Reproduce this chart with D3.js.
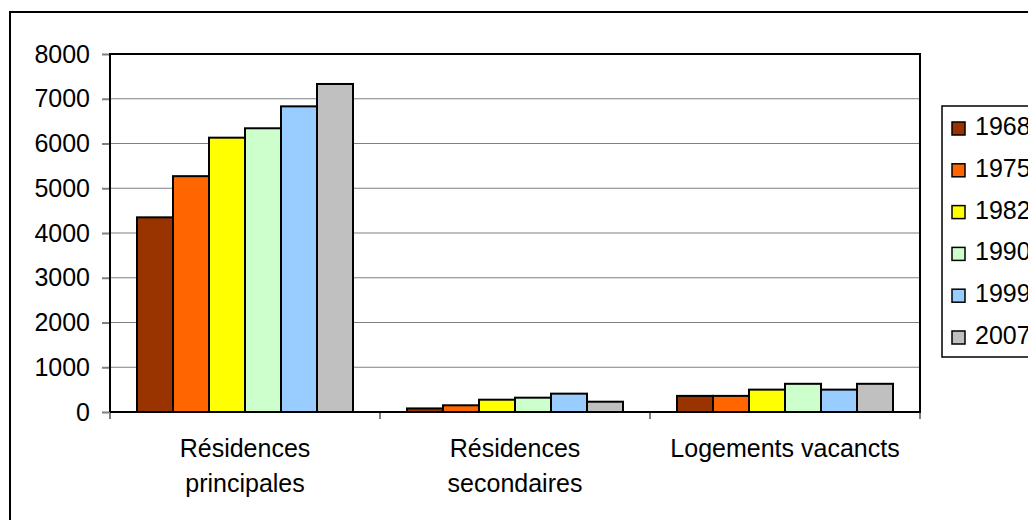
<!DOCTYPE html>
<html>
<head>
<meta charset="utf-8">
<script src="https://cdn.jsdelivr.net/npm/d3@7"></script>
<style>
  body { margin: 0; background: #fff; }
  text { font-family: "Liberation Sans", Arial, sans-serif; fill: #000; }
</style>
</head>
<body>
<script>
// data
const categories = [["Résidences", "principales"], ["Résidences", "secondaires"], ["Logements vacancts"]];
const years = ["1968", "1975", "1982", "1990", "1999", "2007"];
const colors = ["#993300", "#FF6600", "#FFFF00", "#CCFFCC", "#99CCFF", "#C0C0C0"];
const v1968 = [4350, 80, 360];
const v1975 = [5270, 150, 360];
const v1982 = [6130, 275, 500];
const v1990 = [6340, 320, 630];
const v1999 = [6830, 410, 500];
const v2007 = [7330, 230, 630];
const series = [v1968, v1975, v1982, v1990, v1999, v2007];
const yTicks = [0, 1000, 2000, 3000, 4000, 5000, 6000, 7000, 8000];

const width = 1028;
const height = 520;
const plot = { left: 110, right: 920, top: 54, bottom: 412 };

const svg = d3.select("body")
    .append("svg")
    .attr("width", width)
    .attr("height", height);

// outer chart border
svg.append("rect")
    .attr("x", 10).attr("y", 12)
    .attr("width", 1040).attr("height", 530)
    .attr("fill", "#fff")
    .attr("stroke", "#000")
    .attr("stroke-width", 2);

const x0 = d3.scaleBand()
    .domain(d3.range(categories.length))
    .range([plot.left, plot.right]);

const x1 = d3.scaleBand()
    .domain(years)
    .range([0, x0.bandwidth()])
    .paddingOuter(0.75);

const y = d3.scaleLinear()
    .domain([0, 8000])
    .range([plot.bottom, plot.top]);

// gridlines
svg.append("g")
    .selectAll("line")
    .data(yTicks.slice(1))
    .enter()
    .append("line")
    .attr("x1", plot.left).attr("x2", plot.right)
    .attr("y1", d => y(d)).attr("y2", d => y(d))
    .attr("stroke", "#808080")
    .attr("stroke-width", 1);

// plot area frame (top and right)
svg.append("path")
    .attr("d", `M${plot.left},${plot.top}H${plot.right}V${plot.bottom}`)
    .attr("fill", "none")
    .attr("stroke", "#000")
    .attr("stroke-width", 2);

// bars
series.forEach((vals, i) => {
    svg.append("g")
        .selectAll("rect")
        .data(vals)
        .enter()
        .append("rect")
        .attr("x", (d, j) => x0(j) + x1(years[i]))
        .attr("y", d => y(d))
        .attr("width", x1.bandwidth())
        .attr("height", d => y(0) - y(d))
        .attr("fill", colors[i])
        .attr("stroke", "#000")
        .attr("stroke-width", 2);
});

// y axis
const yAxis = svg.append("g")
    .attr("transform", "translate(" + plot.left + ",0)")
    .call(d3.axisLeft(y).tickValues(yTicks).tickFormat(d3.format("d")).tickSize(8).tickPadding(12));
yAxis.select(".domain").remove();
yAxis.selectAll(".tick line").attr("stroke", "#808080").attr("stroke-width", 2);
yAxis.selectAll(".tick text")
    .style("font-size", "25px")
    .attr("fill", "#000");
svg.append("line")
    .attr("x1", plot.left).attr("x2", plot.left)
    .attr("y1", plot.top - 1).attr("y2", plot.bottom)
    .attr("stroke", "#000").attr("stroke-width", 2);

// x axis ticks between categories
svg.append("g")
    .selectAll("line")
    .data(d3.range(categories.length + 1))
    .enter()
    .append("line")
    .attr("x1", d => plot.left + d * x0.bandwidth())
    .attr("x2", d => plot.left + d * x0.bandwidth())
    .attr("y1", plot.bottom).attr("y2", plot.bottom + 7)
    .attr("stroke", "#808080").attr("stroke-width", 2);
svg.append("line")
    .attr("x1", plot.left).attr("x2", plot.right + 1)
    .attr("y1", plot.bottom).attr("y2", plot.bottom)
    .attr("stroke", "#000").attr("stroke-width", 2);

// category labels
categories.forEach((lines, j) => {
    const t = svg.append("text")
        .attr("text-anchor", "middle")
        .style("font-size", "25px");
    lines.forEach((ln, k) => {
        t.append("tspan")
            .attr("x", x0(j) + x0.bandwidth() / 2)
            .attr("y", 457 + k * 35)
            .text(ln);
    });
});

// legend
const legend = svg.append("g");
legend.append("rect")
    .attr("x", 942).attr("y", 106)
    .attr("width", 120).attr("height", 251)
    .attr("fill", "#fff")
    .attr("stroke", "#000")
    .attr("stroke-width", 1.5);
years.forEach((yr, i) => {
    const cy = 129 + i * 41.8;
    legend.append("rect")
        .attr("x", 952).attr("y", cy - 7)
        .attr("width", 13).attr("height", 13)
        .attr("fill", colors[i])
        .attr("stroke", "#000")
        .attr("stroke-width", 1.5);
    legend.append("text")
        .attr("x", 975).attr("y", cy + 6)
        .style("font-size", "25px")
        .text(yr);
});
</script>
</body>
</html>
